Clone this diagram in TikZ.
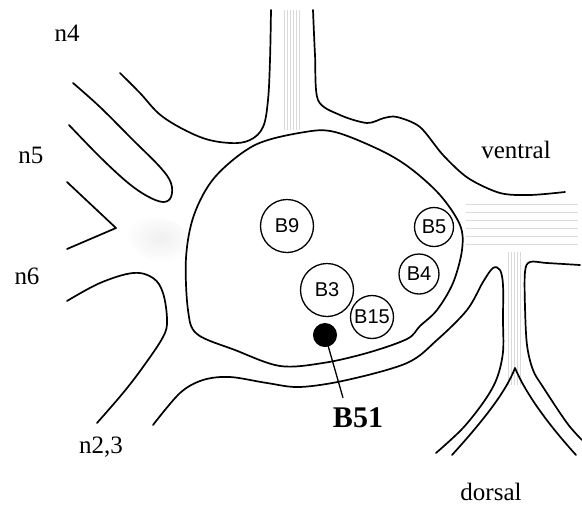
\documentclass[tikz,border=0pt]{standalone}
\usepackage{fontspec}
\setmainfont{Liberation Serif}
\newfontfamily\cellfont{Liberation Sans}
\begin{document}
\begin{tikzpicture}[x=1pt,y=-1pt,
  outline/.style={line width=1.7pt, line cap=round, line join=round},
  fibre/.style={gray!30, line width=0.6pt},
  cell/.style={circle, draw, line width=1.3pt, inner sep=0pt,
    font=\cellfont\fontsize{20}{20}\selectfont},
  tag/.style={inner sep=0pt, font=\fontsize{25}{25}\selectfont},
]
\useasboundingbox (0,0) rectangle (582,507);

% faint fibre bundles inside the nerves
\foreach \x in {284,287,290,293,296,299}
  \draw[fibre] (\x,10) -- (\x,130);
\foreach \y in {204,212,220,228,236,244}
  \draw[fibre] (466,\y) -- (578,\y);
\foreach \x in {508,511,514,517,520}
  \draw[fibre] (\x,252) -- (\x,385);
\shade[inner color=gray!12, outer color=white, rotate around={-20:(160,240)}]
  (160,240) ellipse [x radius=34pt, y radius=22pt];

% ganglion body
\draw[outline] plot[smooth cycle, tension=0.55] coordinates {
  (305,132) (255,145) (215,177) (194,215) (186,258) (188,310) (197,334)
  (235,350) (280,366) (323,363) (367,353) (407,339) (420,326) (437,310)
  (453,283) (462,250) (460,225) (440,195) (410,168) (380,150) (335,132)};

% nerve n4 / top nerve, left edge
\draw[outline] plot[smooth, tension=0.6] coordinates {
  (271,10) (270,60) (268,100) (263,127) (250,140) (230,143) (200,137)
  (163,117) (140,93) (120,73)};

% nerve n5
\draw[outline] plot[smooth, tension=0.6] coordinates {
  (73,83) (100,107) (133,140) (160,167) (171,183) (171,197) (163,202)
  (147,196) (127,182) (100,157) (69,125)};

% nerve n6, upper edge
\draw[outline] (67,182) -- (116,228) -- (67,249);

% nerve n6 lower edge / n2,3 left edge
\draw[outline] plot[smooth, tension=0.6] coordinates {
  (67,301) (100,283) (133,273) (153,278) (163,293) (167,320) (163,337)
  (143,367) (123,393) (97,423)};

% n2,3 right edge, ganglion sheath, dorsal nerve left edge
\draw[outline] plot[smooth, tension=0.55] coordinates {
  (153,425) (180,393) (203,380) (230,377) (267,383) (300,387) (347,380)
  (407,363) (437,340) (467,310) (483,282) (493,268) (500,270) (503,285)
  (503,320) (503,352) (497,378) (485,400) (463,428) (436,453)};

% dorsal nerve, inner edges of the fork
\draw[outline] (452,455) .. controls (482,422) and (506,392) .. (515,368)
  .. controls (526,394) and (548,424) .. (576,455);

% dorsal nerve right edge
\draw[outline] plot[smooth, tension=0.55] coordinates {
  (580,265) (547,263) (530,262) (525,272) (525,307) (527,345) (533,370)
  (543,387) (567,423) (582,440)};

% top nerve right edge and ventral nerve upper edge
\draw[outline] plot[smooth, tension=0.5] coordinates {
  (313,10) (315,55) (318,100) (340,115) (367,123) (384,118) (397,117)
  (420,127) (443,155) (468,178) (500,193) (530,195) (565,192)};

% identified neurons
\node[cell, minimum size=53pt] (b9)  at (287,226) {B9};
\node[cell, minimum size=39pt] (b5)  at (434,227) {B5};
\node[cell, minimum size=40pt] (b4)  at (419,274) {B4};
\node[cell, minimum size=53pt] (b3)  at (327,290) {B3};
\node[cell, minimum size=43pt] (b15) at (372,317) {B15};
\node[circle, fill=black, draw, line width=1pt, minimum size=23pt, inner sep=0pt] (dot) at (325,335) {};

% labels
\node[tag] (n4) at (67,33) {n4};
\node[tag] (n5) at (31,155) {n5};
\node[tag] (n6) at (27,276) {n6};
\node[tag] (n23) at (101,447) {n2,3};
\node[tag] (ventral) at (516,150) {ventral};
\node[tag] (dorsal) at (491,492) {dorsal};
\node[inner sep=0pt, font=\bfseries\fontsize{30}{30}\selectfont] (b51) at (358,418) {B51};

\draw[line width=1.3pt] (dot.center) -- ([xshift=-15pt, yshift=10pt]b51.north);
\end{tikzpicture}
\end{document}
